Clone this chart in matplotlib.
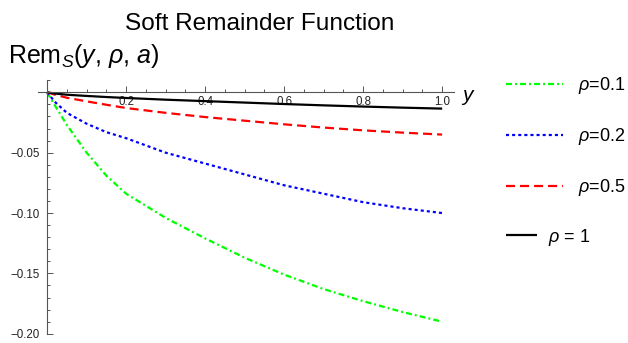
import numpy as np
import matplotlib
matplotlib.use("Agg")
import matplotlib.pyplot as plt
from matplotlib.ticker import MultipleLocator, FixedLocator, FuncFormatter
from matplotlib.lines import Line2D

plt.rcParams['font.family'] = ['Liberation Sans', 'DejaVu Sans']
plt.rcParams['mathtext.fontset'] = 'custom'
plt.rcParams['mathtext.rm'] = 'Liberation Sans'
plt.rcParams['mathtext.it'] = 'Liberation Sans:italic'
plt.rcParams['lines.scale_dashes'] = False

# values
y_vals = [0, 0.02, 0.05, 0.1, 0.15, 0.2, 0.3, 0.4, 0.5, 0.6, 0.7, 0.8, 0.9, 1.0]
rem_rho01 = [0, -0.011, -0.027, -0.050, -0.069, -0.084, -0.104, -0.121, -0.137, -0.151, -0.163, -0.173, -0.182, -0.190]
rem_rho02 = [0, -0.008, -0.017, -0.026, -0.033, -0.038, -0.050, -0.059, -0.068, -0.077, -0.084, -0.091, -0.096, -0.100]
rem_rho05 = [0, -0.002, -0.0045, -0.0075, -0.0103, -0.013, -0.017, -0.0205, -0.0235, -0.0265, -0.0292, -0.0315, -0.0334, -0.035]
rem_rho1 = [0, -0.0010, -0.0020, -0.0030, -0.0039, -0.0047, -0.0061, -0.0073, -0.0085, -0.0097, -0.0108, -0.0118, -0.0127, -0.0135]

labels = [r'$\rho$=0.1', r'$\rho$=0.2', r'$\rho$=0.5', r'$\rho$ = 1']
colors = ['#00ff00', '#0000ff', '#ff0000', '#000000']
dashes = [(4.3, 2.2, 1.4, 2.2), (2.2, 2.2), (6.5, 3.6), None]
x_ticks = [0.2, 0.4, 0.6, 0.8, 1.0]
y_ticks = [-0.05, -0.10, -0.15, -0.20]

W, H = 628, 343
fig = plt.figure(figsize=(W / 100, H / 100), dpi=100)

# axes box in pixels: x from 38 to 454, y from 80 to 334
ax = fig.add_axes([38 / W, 1 - 334 / H, 416 / W, 254 / H])
ax.set_xlim(-0.023, 1.03)
ax.set_ylim(-0.2002, 0.0102)

series = [rem_rho01, rem_rho02, rem_rho05, rem_rho1]
handles = []
for vals, c, d in zip(series, colors, dashes):
    ln, = ax.plot(y_vals, vals, color=c, lw=1.6, clip_on=False,
                  solid_capstyle='butt', dash_capstyle='butt')
    if d is not None:
        ln.set_dashes(d)
    handles.append(ln)

# mathematica style axes through the origin
axcol = '#555555'
for s in ['top', 'right']:
    ax.spines[s].set_visible(False)
ax.spines['left'].set_position(('data', 0))
ax.spines['bottom'].set_position(('data', 0))
for s in ['left', 'bottom']:
    ax.spines[s].set_color(axcol)
    ax.spines[s].set_linewidth(0.8)

ax.xaxis.set_major_locator(FixedLocator(x_ticks))
ax.xaxis.set_minor_locator(MultipleLocator(0.05))
ax.yaxis.set_major_locator(FixedLocator(y_ticks))
ax.yaxis.set_minor_locator(MultipleLocator(0.01))
ax.xaxis.set_major_formatter(FuncFormatter(lambda v, p: f'{v:.1f}'))
ax.yaxis.set_major_formatter(FuncFormatter(lambda v, p: f'{v:.2f}'.replace('-', '\u2212')))
ax.tick_params(which='both', direction='in', color=axcol, width=0.7,
               labelsize=8.3, labelcolor='#222222')
ax.tick_params(which='major', length=4)
ax.tick_params(which='minor', length=2.3)
ax.tick_params(axis='x', pad=3)
ax.tick_params(axis='y', pad=5)

# titles and axis labels
fig.text(260 / W, 1 - 30 / H, 'Soft Remainder Function', ha='center',
         va='baseline', fontsize=17.6)
fig.text(8 / W, 1 - 63 / H, r'Rem$_S$($y$, $\rho$, $a$)', ha='left',
         va='baseline', fontsize=18)
fig.text(461 / W, 1 - 101 / H, r'$y$', ha='left', va='baseline', fontsize=15)

# legend on the right
leg_y = [84, 135, 186, 235]
for i, (h, lab, ly) in enumerate(zip(handles, labels, leg_y)):
    solid = dashes[i] is None
    x_end = 537 if solid else 563
    x_txt = 548 if solid else 578
    ln = Line2D([506 / W, x_end / W], [1 - ly / H, 1 - ly / H],
                transform=fig.transFigure, color=h.get_color(), lw=1.6,
                solid_capstyle='butt', dash_capstyle='butt')
    if not solid:
        ln.set_dashes(dashes[i])
    fig.add_artist(ln)
    fig.text(x_txt / W, 1 - (ly + 2) / H, lab, ha='left', va='center',
             fontsize=13)

fig.savefig('out.png', dpi=100)
